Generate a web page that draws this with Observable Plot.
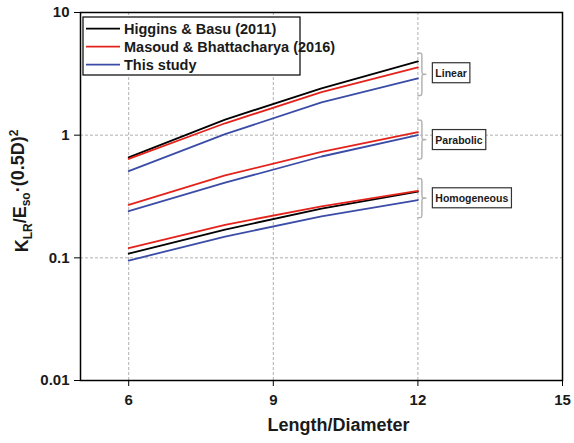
<!DOCTYPE html>
<html><head><meta charset="utf-8">
<script src="https://cdn.jsdelivr.net/npm/d3@7"></script>
<script src="https://cdn.jsdelivr.net/npm/@observablehq/plot@0.6"></script>
<style>body{margin:0;background:#fff}</style>
</head><body><div id="chart"></div>
<script>
// ---- data ----
const lengthDiameter = [6, 8, 10, 12];
const studies = ["Higgins & Basu (2011)", "Masoud & Bhattacharya (2016)", "This study"];
const studyColors = ["#000000", "#e3231b", "#3b4ca6"];

const higginsLinear = [0.66, 1.34, 2.41, 4.0];
const masoudLinear = [0.64, 1.25, 2.24, 3.57];
const studyLinear = [0.51, 1.02, 1.85, 2.9];
const masoudParabolic = [0.27, 0.47, 0.73, 1.06];
const studyParabolic = [0.24, 0.41, 0.67, 1.0];
const higginsHomogeneous = [0.108, 0.17, 0.252, 0.346];
const masoudHomogeneous = [0.12, 0.186, 0.263, 0.352];
const studyHomogeneous = [0.095, 0.149, 0.218, 0.296];

const xTicks = [6, 9, 12, 15];
const yTicks = [0.01, 0.1, 1, 10];
const yTickLabels = ["0.01", "0.1", "1", "10"];

const groupNames = ["Linear", "Parabolic", "Homogeneous"];
const braceTop = [4.64, 1.32, 0.44];
const braceBottom = [2.08, 0.63, 0.21];
const labelY = [3.19, 0.91, 0.305];
const braceX = 12;
const labelX = 12.3;

const series = [
  {study: studies[0], group: "Linear", values: higginsLinear},
  {study: studies[1], group: "Linear", values: masoudLinear},
  {study: studies[2], group: "Linear", values: studyLinear},
  {study: studies[1], group: "Parabolic", values: masoudParabolic},
  {study: studies[2], group: "Parabolic", values: studyParabolic},
  {study: studies[0], group: "Homogeneous", values: higginsHomogeneous},
  {study: studies[1], group: "Homogeneous", values: masoudHomogeneous},
  {study: studies[2], group: "Homogeneous", values: studyHomogeneous}
];
const rows = series.flatMap(s => s.values.map((v, i) => ({
  study: s.study, key: s.study + "|" + s.group, ld: lengthDiameter[i], k: v
})));
const labels = groupNames.map((g, i) => ({name: g, y: labelY[i]}));

// ---- custom marks ----
function braces(index, scales) {
  const g = d3.create("svg:g").attr("fill", "none").attr("stroke", "#b3b3b3").attr("stroke-width", 1.5);
  groupNames.forEach((n, i) => {
    const x0 = scales.x(braceX), y0 = scales.y(braceTop[i]), y1 = scales.y(braceBottom[i]);
    const ym = (y0 + y1) / 2, w = 9, h = w / 2;
    g.append("path").attr("d",
      `M${x0},${y0}C${x0+h},${y0} ${x0+h},${y0} ${x0+h},${y0+4}L${x0+h},${ym-4}` +
      `C${x0+h},${ym} ${x0+h},${ym} ${x0+w},${ym}C${x0+h},${ym} ${x0+h},${ym} ${x0+h},${ym+4}` +
      `L${x0+h},${y1-4}C${x0+h},${y1} ${x0+h},${y1} ${x0},${y1}`);
  });
  return g.node();
}
function legend(index, scales, values, dim) {
  const g = d3.create("svg:g").attr("text-anchor", "start");
  const x0 = dim.marginLeft + 3, y0 = dim.marginTop + 5;
  g.append("rect").attr("x", x0).attr("y", y0).attr("width", 217).attr("height", 58)
    .attr("fill", "white").attr("stroke", "black").attr("stroke-width", 1.2);
  studies.forEach((s, i) => {
    const y = y0 + 11.6 + i * 18;
    g.append("line").attr("x1", x0 + 3).attr("x2", x0 + 37).attr("y1", y).attr("y2", y)
      .attr("stroke", studyColors[i]).attr("stroke-width", 1.8);
    g.append("text").attr("x", x0 + 41).attr("y", y).attr("dy", "0.36em")
      .attr("text-anchor", "start").attr("font-size", 14.5).attr("fill", "#1a1a1a").text(s);
  });
  return g.node();
}
function yLabel(index, scales, values, dim) {
  const t = d3.create("svg:text").attr("transform", `translate(28,${dim.marginTop + 179}) rotate(-90)`)
    .attr("text-anchor", "middle").attr("font-size", 18).attr("fill", "#1a1a1a");
  t.append("tspan").text("K");
  t.append("tspan").attr("font-size", 12).attr("dy", "0.3em").text("LR");
  t.append("tspan").attr("dy", "-0.3em").text("/E");
  t.append("tspan").attr("font-size", 12).attr("dy", "0.3em").text("so");
  t.append("tspan").attr("dy", "-0.3em").text("·(0.5D)");
  t.append("tspan").attr("font-size", 12).attr("dy", "-0.55em").text("2");
  return t.node();
}

const chart = Plot.plot({
  width: 574, height: 443,
  marginLeft: 80, marginRight: 12, marginTop: 12, marginBottom: 63,
  style: {fontFamily: "Arial, 'Liberation Sans', sans-serif", fontSize: "14px", fontWeight: "bold", color: "#1a1a1a", background: "white"},
  x: {domain: [5, 15]},
  y: {type: "log", domain: [0.01, 10]},
  color: {domain: studies, range: studyColors},
  marks: [
    Plot.ruleX(xTicks.filter(d => d < 15), {stroke: "#b0b0b0", strokeDasharray: "3,2", strokeWidth: 1}),
    Plot.ruleY([0.1, 1], {stroke: "#b0b0b0", strokeDasharray: "3,2", strokeWidth: 1}),
    Plot.axisX({ticks: xTicks, tickSize: 6, tickPadding: 8, fontSize: 15, label: null, stroke: "black"}),
    Plot.axisY({ticks: yTicks, tickFormat: (d) => yTickLabels[yTicks.indexOf(d)], tickSize: 6, tickPadding: 5, fontSize: 15, label: null, stroke: "black"}),
    Plot.line(rows, {x: "ld", y: "k", z: "key", stroke: "study", strokeWidth: 1.8}),
    braces,
    Plot.text(labels, {x: labelX, y: "y", text: "name", textAnchor: "start", dx: 3, fontSize: 10.5, fill: "#1a1a1a"}),
    legend,
    yLabel,
    Plot.text(["Length/Diameter"], {text: d => d, frameAnchor: "bottom", dy: 50, dx: 17, fontSize: 18, fill: "#1a1a1a"}),
    Plot.frame({stroke: "black", strokeWidth: 1.5})
  ]
});
document.getElementById("chart").appendChild(chart);

// boxes around the group labels
d3.select(chart).selectAll('g[aria-label="text"] text').each(function() {
  const txt = this.textContent;
  if (!groupNames.includes(txt)) return;
  const b = this.getBBox();
  const cy = b.y + b.height / 2;
  const r = document.createElementNS("http://www.w3.org/2000/svg", "rect");
  r.setAttribute("x", b.x - 3);
  r.setAttribute("y", cy - 10);
  r.setAttribute("width", b.width + 6);
  r.setAttribute("height", 20);
  r.setAttribute("fill", "white");
  r.setAttribute("stroke", "#333");
  r.setAttribute("stroke-width", 1.2);
  const tr = this.getAttribute("transform");
  if (tr) r.setAttribute("transform", tr);
  this.parentNode.insertBefore(r, this);
});
</script>
</body></html>
